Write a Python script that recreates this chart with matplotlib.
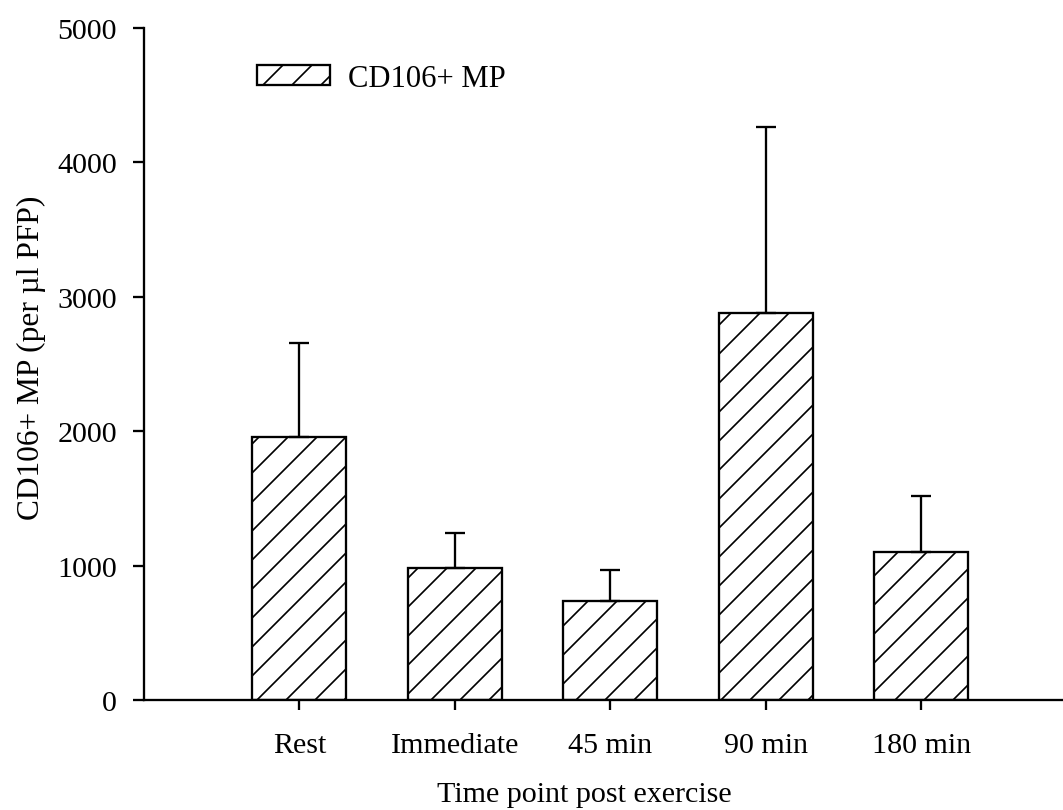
import numpy as np
import matplotlib
matplotlib.use("Agg")
import matplotlib.pyplot as plt

# CD106+ microparticles at each time point (mean, upper SD)
categories = ["Rest", "Immediate", "45 min", "90 min", "180 min"]
means = [1960, 980, 740, 2880, 1100]
errors = [695, 260, 230, 1385, 420]
yticks = [0, 1000, 2000, 3000, 4000, 5000]

DPI = 174
LW = 0.95
plt.rcParams["font.family"] = ["Liberation Serif", "DejaVu Serif"]
plt.rcParams["font.size"] = 12.4
plt.rcParams["hatch.linewidth"] = 0.7
plt.rcParams["hatch.color"] = "black"

fig = plt.figure(figsize=(1063 / DPI, 811 / DPI), dpi=DPI)
ax = fig.add_axes([144 / 1063, 1 - 701 / 811, 919 / 1063, 672 / 811])

x = np.arange(len(categories))
ax.bar(x, means, 0.605, color="white", edgecolor="black", linewidth=LW,
       hatch="//", label="CD106+ MP", zorder=2)
ax.errorbar(x, means, yerr=[np.zeros(len(x)), errors], fmt="none",
            ecolor="black", elinewidth=LW, capsize=4.2, capthick=LW, zorder=3)

ax.set_xlim(-1, 4.913)
ax.set_ylim(0, 5000)
ax.set_xticks(x)
ax.set_xticklabels(categories)
ax.set_yticks(yticks)
ax.tick_params(axis="y", direction="out", length=4.5, width=LW, pad=6.6)
ax.tick_params(axis="x", direction="out", length=4.1, width=LW, pad=9.2)
for s in ["top", "right"]:
    ax.spines[s].set_visible(False)
for s in ["left", "bottom"]:
    ax.spines[s].set_linewidth(LW)

ax.set_xlabel("Time point post exercise")
ax.xaxis.set_label_coords(0.479, -0.12)
ax.set_ylabel("CD106+ MP (per µl PFP)", fontsize=13)
ax.yaxis.set_label_coords(-0.107, 0.51)

ax.legend(loc="upper left", bbox_to_anchor=(113 / 919, 0.947), frameon=False,
          borderpad=0, borderaxespad=0, handlelength=2.37, handleheight=0.63,
          handletextpad=0.6, fontsize=12.7)

fig.savefig("out.png", dpi=DPI)
